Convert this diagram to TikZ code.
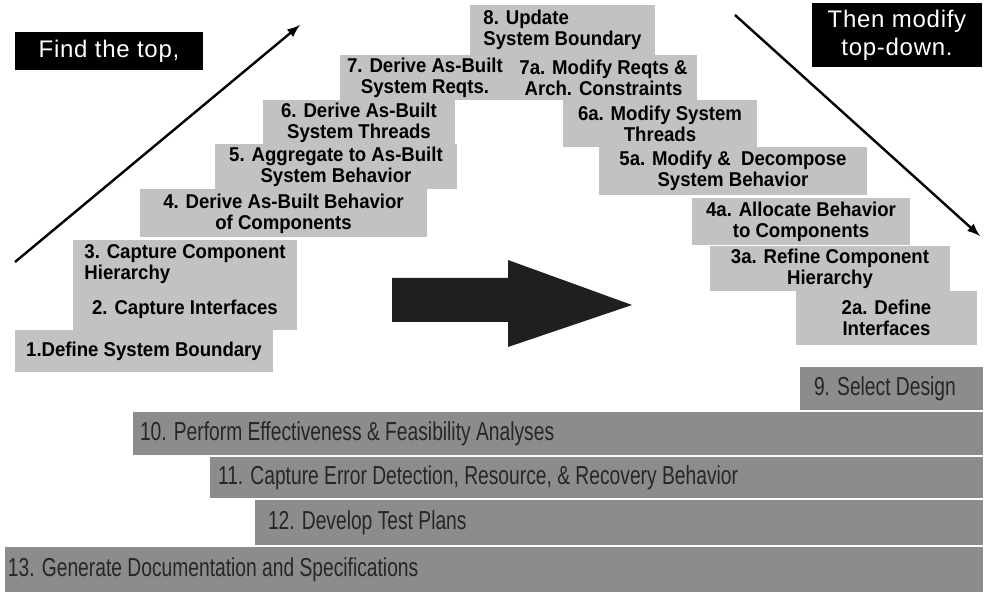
\documentclass[tikz,border=0pt]{standalone}
\usepackage{fontspec}
\newfontfamily\stepfont[FakeStretch=0.93]{Liberation Sans}
\newfontfamily\barfont[FakeStretch=0.74]{Liberation Sans}
\newfontfamily\notefont[LetterSpace=3]{Liberation Sans}
\begin{document}
\begin{tikzpicture}[>=latex, x=0.5pt, y=-0.5pt,
  stepbox/.style={fill=black!24, inner sep=0pt, align=center, font=\stepfont\bfseries\fontsize{10}{10.5}\selectfont},
  barbox/.style={fill=black!45, inner sep=0pt, text=black!85, font=\barfont\fontsize{13}{15}\selectfont},
  notebox/.style={fill=black, text=white, inner sep=0pt, align=center, font=\notefont\fontsize{12}{14}\selectfont}]
{\centering
\path[use as bounding box, fill=white] (0,0) rectangle (991,592);

\node[notebox, minimum width=94pt, minimum height=19pt] (findtop) at (109,51)   {Find the top,};
\node[notebox, minimum width=85pt, minimum height=32pt] (modify)  at (897,35)   {Then modify\\top-down.};

\node[stepbox, minimum width=129pt,   minimum height=21pt]   (s1)  at (144,351)     {1.Define System Boundary};
\node[stepbox, minimum width=112pt,   minimum height=20.5pt] (s2)  at (185,309.5)   {2. Capture Interfaces};
\node[stepbox, minimum width=112pt,   minimum height=24.5pt, align=left] (s3)  at (185,264.5) {3. Capture Component\\Hierarchy};
\node[stepbox, minimum width=143.5pt, minimum height=24pt]   (s4)  at (283.5,213.5) {4. Derive As-Built Behavior\\of Components};
\node[stepbox, minimum width=121pt,   minimum height=22.5pt] (s5)  at (336,167)     {5. Aggregate to As-Built\\System Behavior};
\node[stepbox, minimum width=96pt,    minimum height=22.5pt] (s6)  at (359,122.5)   {6. Derive As-Built\\System Threads};
\node[stepbox, minimum width=85pt,    minimum height=22.5pt] (s7)  at (425,77.5)    {7. Derive As-Built\\System Reqts.};
\node[stepbox, minimum width=92.5pt,  minimum height=25pt, align=left] (s8)  at (562.5,30) {8. Update\\System Boundary};
\node[stepbox, minimum width=93.5pt,  minimum height=22.5pt] (s7a) at (603.5,77.5)  {7a. Modify Reqts \&\\Arch. Constraints};
\node[stepbox, minimum width=97pt,    minimum height=23.5pt] (s6a) at (660,123.5)   {6a. Modify System\\Threads};
\node[stepbox, minimum width=134pt,   minimum height=24pt]   (s5a) at (733,171)     {5a. Modify \& \ Decompose\\System Behavior};
\node[stepbox, minimum width=109pt,   minimum height=23.5pt] (s4a) at (801,221.5)   {4a. Allocate Behavior\\to Components};
\node[stepbox, minimum width=120pt,   minimum height=22.5pt] (s3a) at (830,268.5)   {3a. Refine Component\\Hierarchy};
\node[stepbox, minimum width=90.5pt,  minimum height=27pt]   (s2a) at (886.5,318)   {2a. Define\\Interfaces};

\node[barbox, minimum width=91.5pt, minimum height=21.5pt] (b9)  at (891.5,388.5) {\makebox[77.5pt][l]{9. Select Design}};
\node[barbox, minimum width=425pt,  minimum height=21.5pt] (b10) at (558,433.5)   {\makebox[418pt][l]{10. Perform Effectiveness \& Feasibility Analyses}};
\node[barbox, minimum width=386.5pt,minimum height=20.5pt] (b11) at (596.5,477.5) {\makebox[378.5pt][l]{11. Capture Error Detection, Resource, \& Recovery Behavior}};
\node[barbox, minimum width=364pt,  minimum height=22.5pt] (b12) at (619,522.5)   {\makebox[351pt][l]{12. Develop Test Plans}};
\node[barbox, minimum width=489pt,  minimum height=22.5pt] (b13) at (494,569.5)   {\makebox[486pt][l]{13. Generate Documentation and Specifications}};

\fill[black!88] (392,278) -- (508,278) -- (508,260) -- (632,305) -- (508,347) -- (508,322) -- (392,322) -- cycle;

\coordinate (up0) at (15,262);
\coordinate (up1) at (300,25);
\coordinate (dn0) at (735,15);
\coordinate (dn1) at (980,236);

\path[->, line width=1.2pt] (up0) edge node {} (up1);
\path[->, line width=1.2pt] (dn0) edge node {} (dn1);

}
\end{tikzpicture}
\end{document}
